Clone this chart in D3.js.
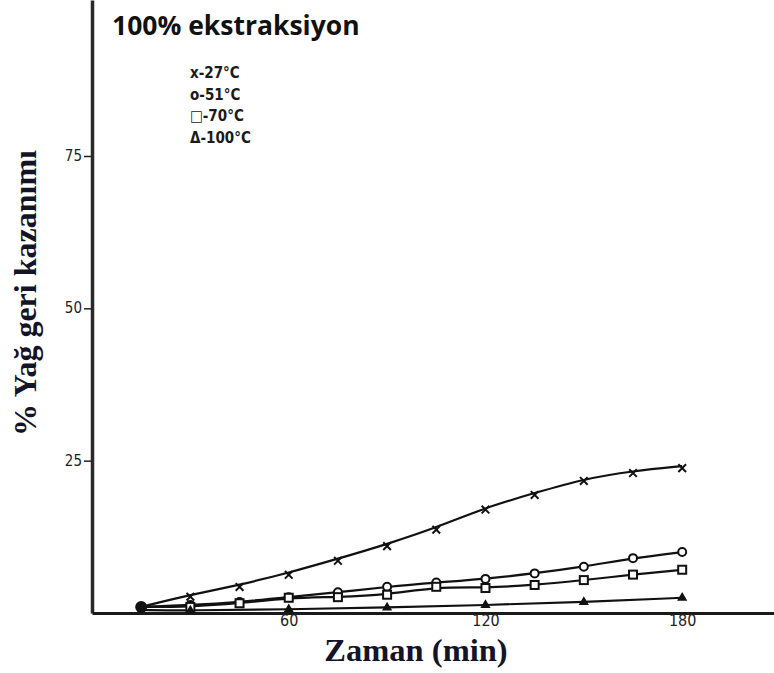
<!DOCTYPE html>
<html>
<head>
<meta charset="utf-8">
<script src="https://cdn.jsdelivr.net/npm/d3@7"></script>
<style>
  html, body { margin: 0; padding: 0; background: #fff; }
  svg { display: block; }
</style>
</head>
<body>
<script>
// Sampling times (min)
const times = [15, 30, 45, 60, 75, 90, 105, 120, 135, 150, 165, 180];
const times100 = [15, 30, 60, 90, 120, 150, 180];

// Oil recovery (%) per extraction temperature
const rec27 = [1.0, 3.0, 4.6, 6.6, 8.9, 11.3, 14.0, 17.3, 19.7, 22.0, 23.3, 24.1];
const rec51 = [1.0, 1.3, 1.8, 2.6, 3.4, 4.3, 5.0, 5.6, 6.5, 7.6, 9.0, 10.0];
const rec70 = [1.0, 1.0, 1.6, 2.5, 2.6, 3.0, 4.3, 4.1, 4.6, 5.4, 6.3, 7.1];
const rec100 = [0.5, 0.4, 0.6, 0.9, 1.3, 1.8, 2.5];

const legendLabels = ["x-27°C", "o-51°C", "□-70°C", "Δ-100°C"];
const xTicks = [60, 120, 180];
const yTicks = [25, 50, 75];

const W = 774, H = 673;
const svg = d3.select("body").append("svg").attr("width", W).attr("height", H);

const x = d3.scaleLinear().domain([0, 208]).range([92, 774]);
const y = d3.scaleLinear().domain([0, 100.6]).range([613, 0]);

const ink = "#111";

// Axes
const yAxis = svg.append("g")
  .attr("transform", `translate(${x(0)},0)`)
  .call(d3.axisLeft(y).tickValues(yTicks).tickSize(8).tickSizeOuter(0).tickPadding(2));
yAxis.select(".domain").attr("stroke", "#2a2a2a").attr("stroke-width", 3.5);
yAxis.selectAll(".tick line").attr("stroke", "#222").attr("stroke-width", 1.5);
yAxis.selectAll(".tick text")
  .attr("font-family", "DejaVu Sans Condensed, DejaVu Sans, sans-serif")
  .attr("font-size", 15).attr("fill", "#222").attr("dy", "0.3em");

const xAxis = svg.append("g")
  .attr("transform", `translate(0,${y(0)})`)
  .call(d3.axisBottom(x).tickValues(xTicks).tickSize(0).tickSizeOuter(0).tickPadding(2));
xAxis.select(".domain").attr("stroke", "#1a1a1a").attr("stroke-width", 3);
xAxis.selectAll(".tick text")
  .attr("font-family", "DejaVu Sans Condensed, DejaVu Sans, sans-serif")
  .attr("font-size", 16).attr("fill", "#222");

// Curves
const series = [
  { t: times, v: rec27, mark: "x" },
  { t: times, v: rec51, mark: "circle" },
  { t: times, v: rec70, mark: "square" },
  { t: times100, v: rec100, mark: "triangle" }
];

const line = d3.line()
  .x(d => x(d[0]))
  .y(d => y(d[1]))
  .curve(d3.curveBasis);

const plot = svg.append("g");
series.forEach(s => {
  const pts = s.t.map((t, i) => [t, s.v[i]]);
  plot.append("path")
    .attr("d", line(pts))
    .attr("fill", "none")
    .attr("stroke", ink)
    .attr("stroke-width", 2.2);
});

// Markers
series.forEach(s => {
  const pts = s.t.map((t, i) => [t, s.v[i]]).slice(1);
  const g = plot.append("g");
  pts.forEach(p => {
    const cx = x(p[0]), cy = y(p[1]);
    if (s.mark === "x") {
      g.append("path")
        .attr("d", d3.symbol(d3.symbolX, 40)())
        .attr("transform", `translate(${cx},${cy + 2})`)
        .attr("stroke", ink).attr("stroke-width", 2).attr("fill", "none");
    } else if (s.mark === "circle") {
      g.append("circle").attr("cx", cx).attr("cy", cy).attr("r", 4)
        .attr("fill", "#fff").attr("stroke", ink).attr("stroke-width", 2);
    } else if (s.mark === "square") {
      g.append("rect").attr("x", cx - 4).attr("y", cy - 4).attr("width", 8).attr("height", 8)
        .attr("fill", "#fff").attr("stroke", ink).attr("stroke-width", 2);
    } else {
      g.append("path")
        .attr("d", d3.symbol(d3.symbolTriangle, 45)())
        .attr("transform", `translate(${cx},${cy})`)
        .attr("fill", ink);
    }
  });
});

// Common starting point
plot.append("circle")
  .attr("cx", x(times[0])).attr("cy", y(rec27[0]))
  .attr("r", 6).attr("fill", ink);

// Title
svg.append("text")
  .attr("x", 112).attr("y", 35)
  .attr("font-family", "Open Sans, sans-serif")
  .attr("font-weight", "bold").attr("font-size", 26.5)
  .attr("fill", "#111")
  .text("100% ekstraksiyon");

// Legend
svg.append("g").selectAll("text")
  .data(legendLabels)
  .join("text")
  .attr("x", 190)
  .attr("y", (d, i) => 78 + i * 21.5)
  .attr("font-family", "DejaVu Sans Condensed, DejaVu Sans, sans-serif")
  .attr("font-weight", "bold").attr("font-size", 15)
  .attr("fill", "#1a1a1a")
  .text(d => d);

// Axis titles
svg.append("text")
  .attr("x", 416).attr("y", 661)
  .attr("text-anchor", "middle")
  .attr("font-family", "Liberation Serif, Times New Roman, serif")
  .attr("font-weight", "bold").attr("font-size", 32.5)
  .attr("fill", "#141428")
  .text("Zaman (min)");

svg.append("text")
  .attr("transform", "translate(36,293) rotate(-90)")
  .attr("text-anchor", "middle")
  .attr("font-family", "Liberation Serif, Times New Roman, serif")
  .attr("font-weight", "bold").attr("font-size", 32)
  .attr("fill", "#141428")
  .text("% Yağ geri kazanımı");
</script>
</body>
</html>
